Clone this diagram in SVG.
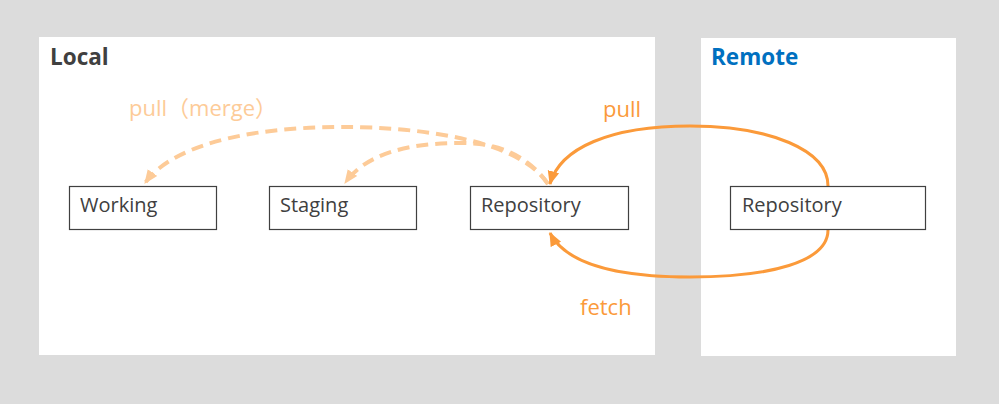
<svg xmlns="http://www.w3.org/2000/svg" width="999" height="404" viewBox="0 0 999 404">
<style>
.panel{fill:#ffffff}
.box{fill:#ffffff;stroke:#404040;stroke-width:1.2}
.lbl{font-family:"Open Sans","Noto Sans","Liberation Sans",sans-serif;font-size:20px;fill:#404040}
.title{font-family:"Open Sans","Noto Sans","Liberation Sans",sans-serif;font-size:22.5px;font-weight:bold}
.solid{fill:none;stroke:#fb9a3a;stroke-width:3}
.dash{fill:none;stroke:#fdcb98;stroke-width:4;stroke-dasharray:12 7}
.elbl{font-family:"Open Sans","Noto Sans","Liberation Sans","Noto Sans CJK SC",sans-serif;font-size:22px}
.cjk{font-family:"Noto Sans CJK SC","Noto Sans CJK JP",sans-serif}
</style>
<defs>
<marker id="ah" markerUnits="userSpaceOnUse" markerWidth="14" markerHeight="14" viewBox="0 0 12 12" refX="11" refY="6" orient="auto">
<path d="M0,1 L12,6 L0,11 Z" fill="#fb9a3a"/>
</marker>
<marker id="ahl" markerUnits="userSpaceOnUse" markerWidth="14" markerHeight="14" viewBox="0 0 12 12" refX="11" refY="6" orient="auto">
<path d="M0,1 L12,6 L0,11 Z" fill="#fdcb98"/>
</marker>
</defs>
<rect x="0" y="0" width="999" height="404" fill="#dcdcdc"/>
<g id="local-panel">
<rect class="panel" x="39" y="37" width="616" height="318"/>
<text class="title" x="50" y="65" fill="#404040">Local</text>
</g>
<g id="remote-panel">
<rect class="panel" x="701" y="38" width="255" height="318"/>
<text class="title" x="711" y="65" fill="#0070c0">Remote</text>
</g>
<g id="connectors">
<path class="dash" d="M548,184 C520,140 420,127 343,127 C240,127 170,148 145,183" marker-end="url(#ahl)"/>
<path class="dash" d="M548,184 C525,152 495,143 460,143 C405,143 365,155 345,183" marker-end="url(#ahl)"/>
<path class="solid" d="M828,186 C828,150 770,126 690,126 C610,126 560,148 550,184" marker-end="url(#ah)"/>
<path class="solid" d="M828,230 C828,262 770,277 690,277 C610,277 565,262 550,233" marker-end="url(#ah)"/>
<text class="elbl" x="129" y="116" fill="#fdcb98">pull<tspan class="cjk">（</tspan>merge<tspan class="cjk">）</tspan></text>
<text class="elbl" x="603" y="117" fill="#fb9a3a">pull</text>
<text class="elbl" x="580" y="315" fill="#fb9a3a">fetch</text>
</g>
<g id="working">
<rect class="box" x="69.5" y="186.5" width="147" height="43"/>
<text class="lbl" x="80" y="212">Working</text>
</g>
<g id="staging">
<rect class="box" x="269.5" y="186.5" width="147" height="43"/>
<text class="lbl" x="280" y="212">Staging</text>
</g>
<g id="local-repository">
<rect class="box" x="470.5" y="186.5" width="158" height="43"/>
<text class="lbl" x="481" y="212">Repository</text>
</g>
<g id="remote-repository">
<rect class="box" x="730.5" y="186.5" width="195" height="43"/>
<text class="lbl" x="742" y="212">Repository</text>
</g>
</svg>
